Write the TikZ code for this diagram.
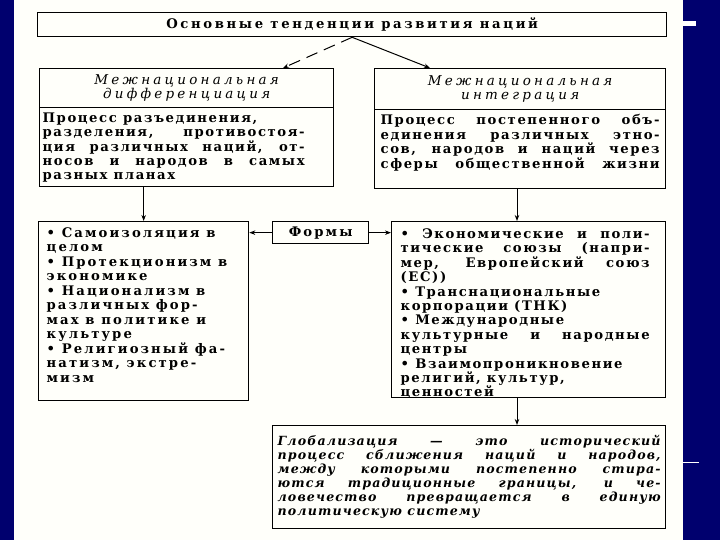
\documentclass[tikz,border=0pt]{standalone}
\usepackage{fontspec}
\setmainfont{DejaVu Serif}
\usetikzlibrary{arrows.meta}
\definecolor{navy}{RGB}{0,0,110}
\definecolor{paper}{RGB}{255,255,250}
\newcommand\bodyf{\fontsize{13.2}{14.4}\selectfont\bfseries\addfontfeature{LetterSpace=12}}
\newcommand\widef{\fontsize{13.2}{14.5}\selectfont\bfseries\addfontfeature{LetterSpace=16}}
\newcommand\titlef{\fontsize{13.2}{14.4}\selectfont\bfseries\addfontfeature{LetterSpace=20}}
\newcommand\headf{\fontsize{13.5}{13.5}\selectfont\itshape\addfontfeature{LetterSpace=24}}
\newcommand\globf{\fontsize{12.6}{14}\selectfont\bfseries\itshape\addfontfeature{LetterSpace=9}}
\newcommand\jl[1]{\makebox[\linewidth][s]{#1}\\}
\newcommand\fb[3]{\parbox[c][#2][t]{#1}{#3}}
\begin{document}
\begin{tikzpicture}[x=1pt,y=-1pt,
  box/.style={draw, line width=1.3pt, inner sep=0pt, anchor=north west},
  arr/.style={line width=1pt, -{Stealth[length=6pt,width=4.5pt]}}]
\useasboundingbox (0,0) rectangle (720,540);
\fill[paper] (0,0) rectangle (720,540);
\fill[navy] (0,0) rectangle (14,540);
\fill[navy] (683,0) rectangle (720,540);
\fill[white] (683,21) rectangle (696,26);
\draw[white, line width=1pt] (683,462) -- (699,462);

\node[box, minimum width=629pt, minimum height=24pt, font=\titlef] (title) at (37,12)
  {Основные тенденции развития наций};

\node[box, minimum width=294pt, minimum height=39pt, align=center, font=\headf] (diffhead) at (39,68)
  {Межнациональная\\дифференциация};
\node[box, inner xsep=3pt, inner ysep=5pt] (diffbody) at (39,107)
  {\fb{288pt}{69pt}{\parbox[t]{262pt}{\bodyf Процесс разъединения,\\
   \jl{разделения, противостоя-}
   \jl{ция различных наций, от-}
   \jl{носов и народов в самых}
   разных планах}}};

\node[box, minimum width=291pt, minimum height=41pt, align=center, font=\headf] (intehead) at (374,68)
  {Межнациональная\\интеграция};
\node[box, inner xsep=6pt, inner ysep=5pt] (intebody) at (374,109)
  {\fb{279pt}{69pt}{\bodyf
   \jl{Процесс постепенного объ-}
   \jl{единения различных этно-}
   \jl{сов, народов и наций через}
   \makebox[\linewidth][s]{сферы общественной жизни}}};

\node[box, inner xsep=8pt, inner ysep=6pt] (ll) at (38,221)
  {\fb{194pt}{167pt}{\widef
   • Самоизоляция в\\
   целом\\
   • Протекционизм в\\
   экономике\\
   • Национализм в\\
   различных фор-\\
   мах в политике и\\
   культуре\\
   • Религиозный фа-\\
   натизм, экстре-\\
   мизм}};

\node[box, minimum width=96pt, minimum height=22pt, font=\widef] (formy) at (272,221)
  {Формы};

\node[box, inner xsep=9pt, inner ysep=7pt] (lr) at (391,221)
  {\fb{256pt}{162pt}{\parbox[t]{249pt}{\bodyf
   \jl{• Экономические и поли-}
   \jl{тические союзы (напри-}
   \jl{мер, Европейский союз}
   (ЕС))\\
   • Транснациональные\\
   корпорации (ТНК)\\
   • Международные\\
   \jl{культурные и народные}
   центры\\
   • Взаимопроникновение\\
   религий, культур,\\
   ценностей}}};

\node[box, inner xsep=5pt, inner ysep=10pt] (glob) at (272,425)
  {\fb{383pt}{83pt}{\globf
   \jl{Глобализация — это исторический}
   \jl{процесс сближения наций и народов,}
   \jl{между которыми постепенно стира-}
   \jl{ются традиционные границы, и че-}
   \jl{ловечество превращается в единую}
   политическую систему}};

\coordinate (dtip) at (283,0);
\coordinate (itip) at (430,0);
\coordinate (rx) at (517,0);
\draw[arr, dash pattern=on 12pt off 7pt] (title.south) -- (diffhead.north -| dtip);
\draw[arr] (title.south) -- (intehead.north -| itip);
\draw[arr] (diffbody.south -| ll.north) -- (ll.north);
\draw[arr] (intebody.south -| rx) -- (lr.north -| rx);
\draw[arr] (lr.south -| rx) -- (glob.north -| rx);
\draw[arr] (formy.west) -- (ll.east |- formy.west);
\draw[arr] (formy.east) -- (lr.west |- formy.east);
\end{tikzpicture}
\end{document}
